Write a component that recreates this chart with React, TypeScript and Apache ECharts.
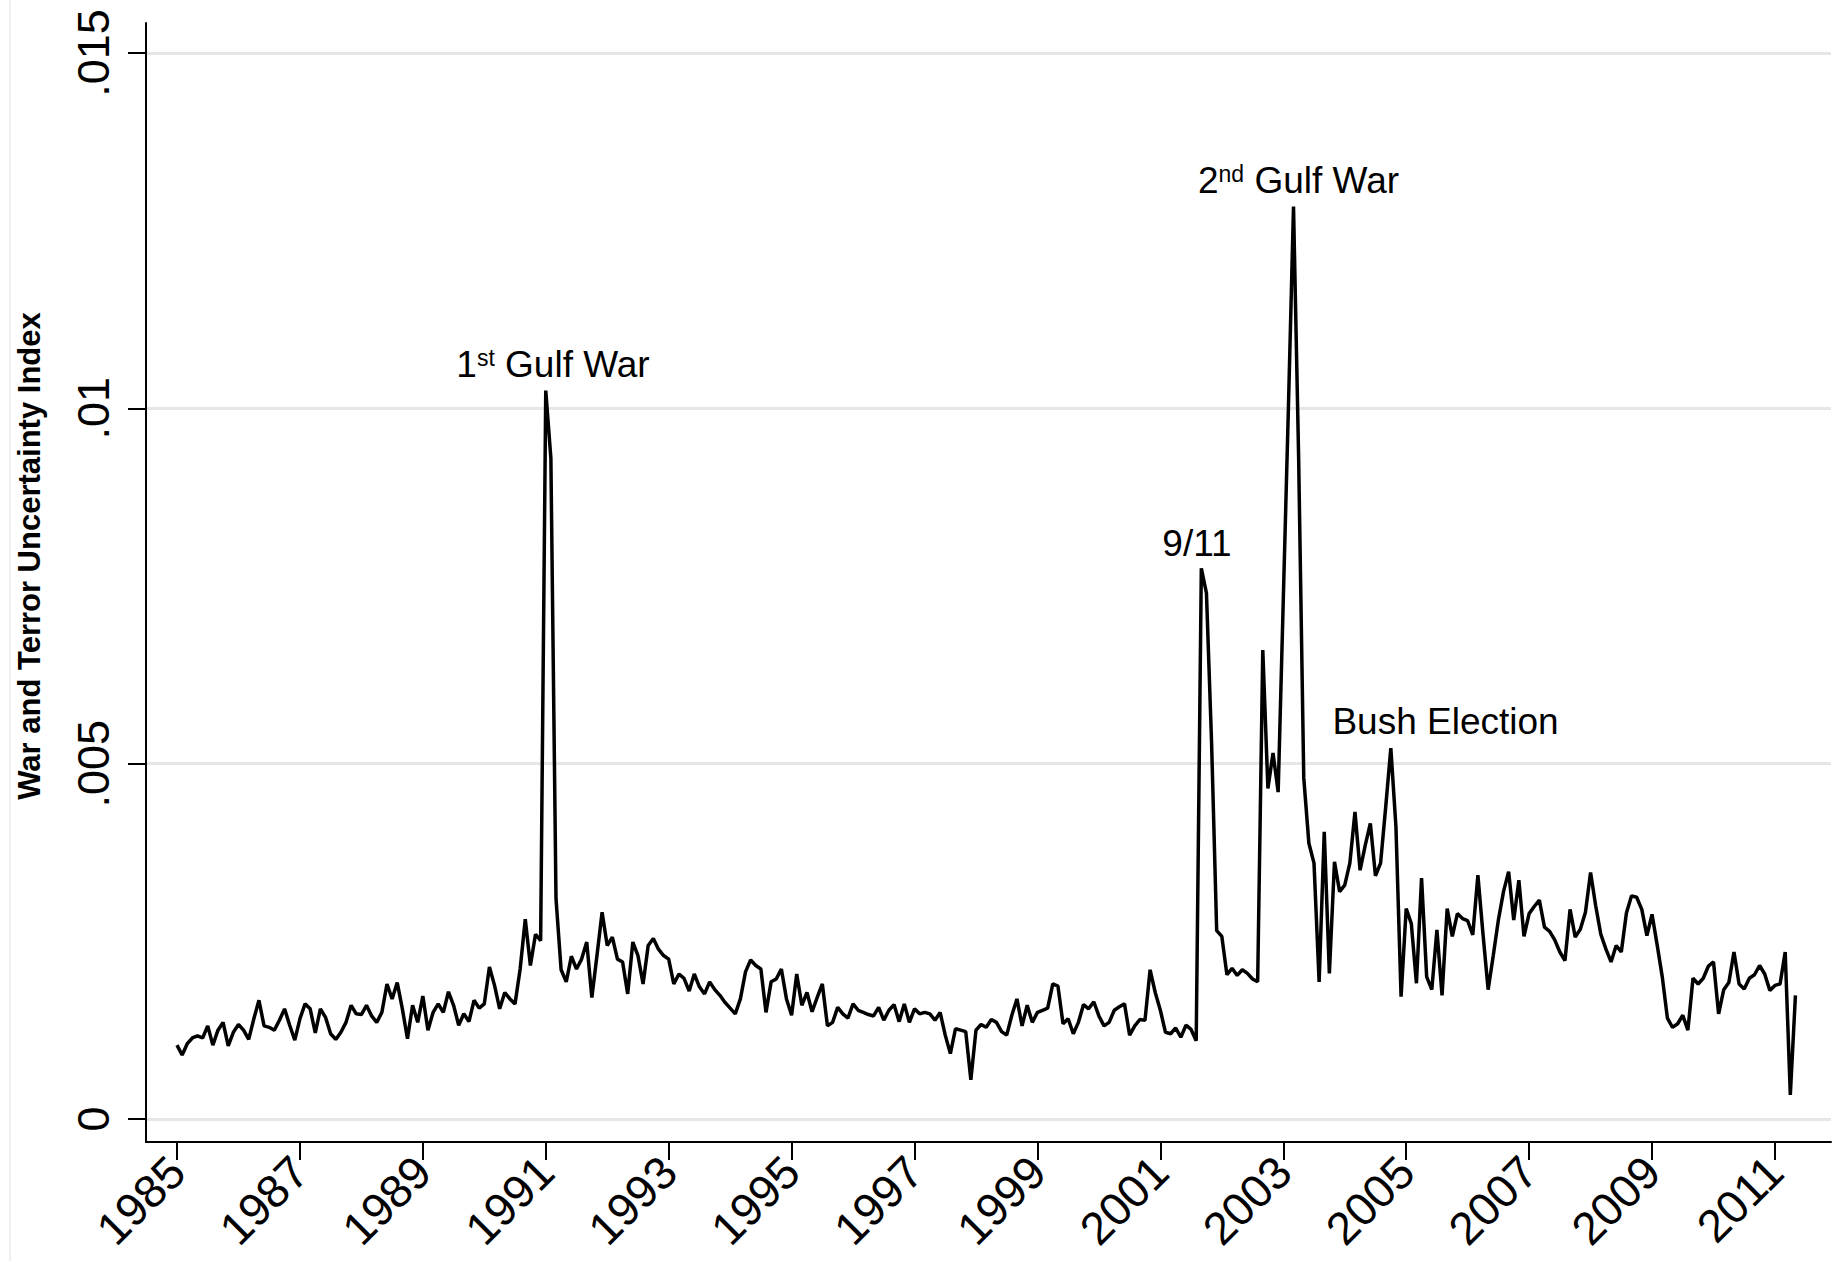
import React, { useEffect, useRef } from "react";
import * as echarts from "echarts";

// monthly index values, Jan 1985 .. May 2011, in thousandths
const startYear = 1985;

const idx1985to1989 = [
  1.04, 0.9, 1.06, 1.14, 1.17, 1.14, 1.31, 1.04, 1.25, 1.36, 1.03, 1.22,
  1.33, 1.25, 1.12, 1.41, 1.67, 1.31, 1.29, 1.25, 1.39, 1.55, 1.32, 1.11,
  1.41, 1.62, 1.55, 1.21, 1.55, 1.43, 1.2, 1.12, 1.22, 1.36, 1.6, 1.48,
  1.47, 1.6, 1.45, 1.36, 1.5, 1.9, 1.69, 1.92, 1.55, 1.13, 1.6, 1.36,
  1.73, 1.25, 1.5, 1.62, 1.5, 1.79, 1.6, 1.32, 1.48, 1.37, 1.67, 1.56,
];

const idx1990to1994 = [
  1.62, 2.14, 1.88, 1.55, 1.78, 1.69, 1.62, 2.11, 2.81, 2.16, 2.6, 2.51,
  10.25, 9.3, 3.1, 2.1, 1.93, 2.29, 2.11, 2.25, 2.49, 1.71, 2.3, 2.91,
  2.44, 2.56, 2.25, 2.21, 1.76, 2.49, 2.3, 1.9, 2.44, 2.54, 2.39, 2.3,
  2.25, 1.9, 2.04, 1.98, 1.8, 2.04, 1.86, 1.76, 1.93, 1.82, 1.74, 1.64,
  1.56, 1.48, 1.69, 2.07, 2.24, 2.16, 2.11, 1.5, 1.93, 1.97, 2.11, 1.69,
];

const idx1995to1999 = [
  1.46, 2.04, 1.6, 1.78, 1.51, 1.71, 1.9, 1.31, 1.36, 1.57, 1.48, 1.42,
  1.62, 1.53, 1.5, 1.47, 1.45, 1.57, 1.39, 1.53, 1.61, 1.37, 1.62, 1.36,
  1.55, 1.48, 1.5, 1.48, 1.39, 1.5, 1.18, 0.92, 1.27, 1.25, 1.23, 0.55,
  1.25, 1.33, 1.29, 1.4, 1.36, 1.23, 1.18, 1.46, 1.69, 1.31, 1.6, 1.36,
  1.5, 1.53, 1.56, 1.9, 1.87, 1.34, 1.41, 1.2, 1.36, 1.61, 1.55, 1.65,
];

const idx2000to2004 = [
  1.45, 1.31, 1.36, 1.53, 1.58, 1.62, 1.18, 1.31, 1.4, 1.39, 2.1, 1.78,
  1.53, 1.22, 1.2, 1.28, 1.15, 1.32, 1.26, 1.1, 7.75, 7.4, 5.3, 2.65,
  2.57, 2.03, 2.12, 2.02, 2.1, 2.05, 1.97, 1.93, 6.6, 4.65, 5.15, 4.6,
  7.3, 10.0, 12.84, 9.3, 4.8, 3.88, 3.6, 1.93, 4.04, 2.05, 3.62, 3.2,
  3.29, 3.6, 4.32, 3.5, 3.85, 4.16, 3.42, 3.6, 4.39, 5.22, 4.11, 1.72,
];

const idx2005to2011 = [
  2.96, 2.75, 1.91, 3.39, 2.0, 1.82, 2.66, 1.74, 2.96, 2.57, 2.89, 2.82,
  2.79, 2.59, 3.43, 2.6, 1.82, 2.3, 2.8, 3.2, 3.48, 2.8, 3.36, 2.57,
  2.89, 2.99, 3.08, 2.7, 2.64, 2.52, 2.35, 2.23, 2.95, 2.56, 2.67, 2.91,
  3.47, 3.0, 2.6, 2.39, 2.21, 2.44, 2.35, 2.9, 3.14, 3.12, 2.95, 2.58,
  2.88, 2.45, 2.0, 1.42, 1.29, 1.34, 1.46, 1.25, 1.98, 1.9, 1.98, 2.15,
  2.21, 1.48, 1.82, 1.92, 2.35, 1.9, 1.83, 1.98, 2.03, 2.16, 2.04, 1.81,
  1.88, 1.9, 2.35, 0.34, 1.74,
];

const xTickYears = [
  1985, 1987, 1989, 1991, 1993, 1995, 1997, 1999, 2001, 2003, 2005, 2007, 2009, 2011,
];
const yTickValues = [0, 5, 10, 15];
const yTickLabels = ["0", ".005", ".01", ".015"];
const yAxisTitle = "War and Terror Uncertainty Index";
const eventLabels = ["1st Gulf War", "9/11", "2nd Gulf War", "Bush Election"];

const FONT = 'Arial, "Liberation Sans", Helvetica, sans-serif';

const values = [
  ...idx1985to1989,
  ...idx1990to1994,
  ...idx1995to1999,
  ...idx2000to2004,
  ...idx2005to2011,
];

// "1st Gulf War" -> rich text with a superscript ordinal
const richLabel = (t: string) => {
  const m = t.match(/^(\d+)(st|nd|rd|th)(.*)$/);
  return m ? `{b|${m[1]}}{s|${m[2]}}{b|${m[3]}}` : `{b|${t}}`;
};

const App: React.FC = () => {
  const chartRef = useRef<HTMLDivElement | null>(null);

  useEffect(() => {
    document.body.style.margin = "0";
    document.body.style.overflow = "hidden";
    if (!chartRef.current) return;

    const chart = echarts.init(chartRef.current, null, { renderer: "svg" });

    // label anchors in data units (year, thousandths)
    const anchors = [
      [1991.118, 10.61],
      [2001.596, 8.1],
      [2003.248, 13.2],
      [2005.64, 5.59],
    ];

    const options = {
      animation: false,
      backgroundColor: "#ffffff",
      grid: {
        left: 146,
        right: 6,
        top: 23,
        bottom: 119,
        containLabel: false,
        outerBoundsMode: "none",
      },
      xAxis: {
        type: "value",
        min: 1984.4956,
        max: 2011.912,
        axisLine: { show: true, onZero: false, lineStyle: { color: "#000", width: 2 } },
        axisTick: {
          show: true,
          length: 18,
          customValues: xTickYears,
          lineStyle: { color: "#000", width: 2 },
        },
        axisLabel: {
          customValues: xTickYears,
          rotate: 45,
          margin: 22,
          fontSize: 46,
          fontFamily: FONT,
          color: "#000",
          formatter: (v: number) => String(v),
        },
        splitLine: { show: false },
      },
      yAxis: {
        type: "value",
        min: -0.3236,
        max: 15.422,
        axisLine: { show: true, onZero: false, lineStyle: { color: "#000", width: 2 } },
        axisTick: {
          show: true,
          length: 18,
          customValues: yTickValues,
          lineStyle: { color: "#000", width: 2 },
        },
        axisLabel: {
          customValues: yTickValues,
          rotate: 90,
          margin: 30,
          fontSize: 45,
          fontFamily: FONT,
          color: "#000",
          formatter: (v: number) => yTickLabels[yTickValues.indexOf(v)] ?? "",
        },
        splitLine: { show: true, lineStyle: { color: "#e6e6e6", width: 3 } },
      },
      graphic: [
        {
          // faint outer frame edge of the graph region
          type: "line",
          silent: true,
          shape: { x1: 10, y1: 0, x2: 10, y2: 1261 },
          style: { stroke: "#f0f0f0", lineWidth: 2 },
        },
        {
          type: "text",
          x: 29,
          y: 556,
          rotation: Math.PI / 2,
          style: {
            text: yAxisTitle,
            font: `bold 31px ${FONT}`,
            fill: "#000",
            align: "center",
            verticalAlign: "middle",
            textAlign: "center",
            textVerticalAlign: "middle",
          },
        },
      ],
      series: [
        {
          type: "line",
          data: values.map((v, i) => [startYear + i / 12, v]),
          showSymbol: false,
          symbol: "none",
          silent: true,
          lineStyle: { color: "#000", width: 3.5 },
          emphasis: { disabled: true },
          markPoint: {
            silent: true,
            symbol: "circle",
            symbolSize: 0,
            itemStyle: { color: "transparent" },
            label: {
              show: true,
              position: "inside",
              color: "#000",
              formatter: (p: { name: string }) => richLabel(p.name),
              rich: {
                b: { fontSize: 37, fontFamily: FONT, color: "#000" },
                s: { fontSize: 23, fontFamily: FONT, color: "#000", verticalAlign: "top" },
              },
            },
            data: eventLabels.map((name, i) => ({ name, coord: anchors[i] })),
          },
        },
      ],
    };

    chart.setOption(options);

    return () => {
      chart.dispose();
    };
  }, []);

  return <div ref={chartRef} style={{ width: 1837, height: 1261 }} />;
};

export default App;
